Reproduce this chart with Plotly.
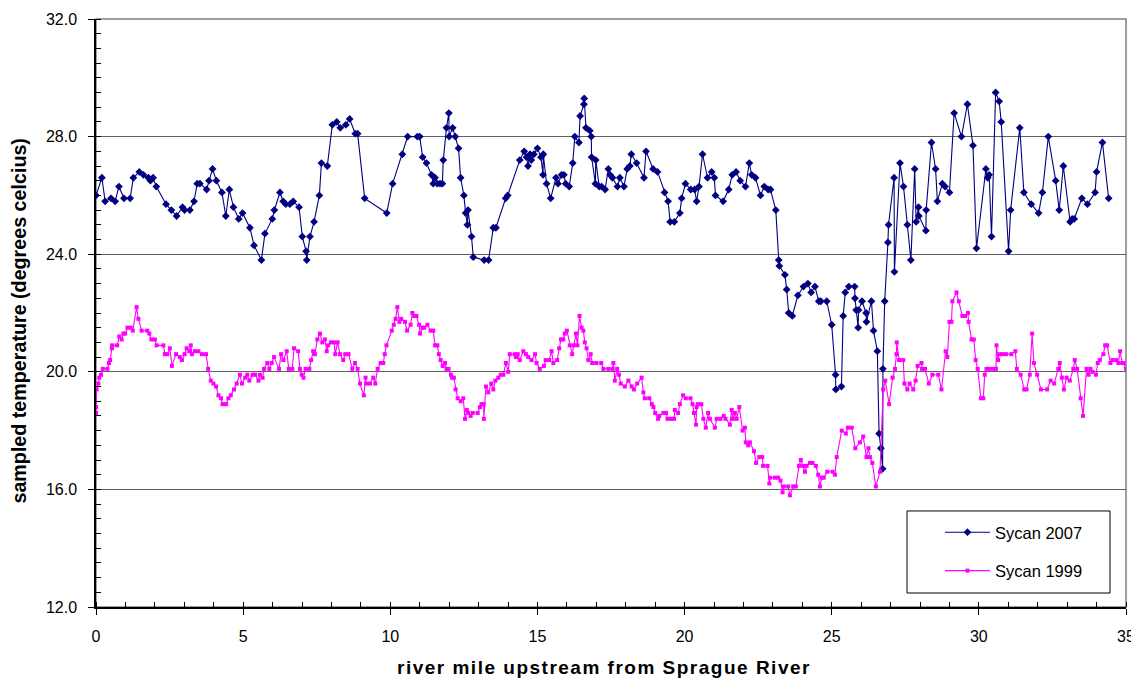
import plotly.graph_objects as go

# Sycan 2007 - river mile and sampled temperature
mile_2007 = [0.0, 0.2, 0.31, 0.51, 0.65, 0.78, 0.95, 1.16, 1.27, 1.47, 1.61, 1.78, 1.85, 1.94, 2.05,
             2.38, 2.56, 2.74, 2.94, 3.01, 3.19, 3.33, 3.44, 3.53, 3.76, 3.84, 3.96, 4.09, 4.28, 4.41,
             4.53, 4.67, 4.85, 4.98, 5.23, 5.37, 5.62, 5.74, 5.99, 6.06, 6.25, 6.36, 6.45, 6.59, 6.70,
             6.90, 7.01, 7.14, 7.16, 7.27, 7.41, 7.59, 7.66, 7.86, 8.03, 8.18, 8.30, 8.49, 8.62, 8.81,
             8.89, 9.13, 9.88, 10.08, 10.41, 10.59, 10.92, 11.0, 11.1, 11.23, 11.4, 11.46, 11.52, 11.6,
             11.69, 11.77, 11.8, 11.91, 11.99, 12.0, 12.12, 12.21, 12.32, 12.39, 12.5, 12.56, 12.62, 12.64,
             12.76, 12.82, 13.19, 13.34, 13.5, 13.59, 13.92, 13.99, 14.4, 14.55, 14.63, 14.68, 14.75,
             14.79, 14.88, 15.0, 15.12, 15.19, 15.2, 15.31, 15.45, 15.63, 15.70, 15.82, 15.9, 15.96,
             16.08, 16.2, 16.27, 16.41, 16.45, 16.58, 16.59, 16.65, 16.78, 16.83, 16.84, 16.97, 16.98,
             17.1, 17.18, 17.3, 17.41, 17.47, 17.55, 17.72, 17.80, 17.94, 18.05, 18.14, 18.19, 18.37,
             18.62, 18.69, 18.93, 19.08, 19.32, 19.44, 19.51, 19.65, 19.84, 19.9, 20.03, 20.21, 20.34,
             20.41, 20.49, 20.61, 20.78, 20.92, 21.01, 21.05, 21.31, 21.5, 21.62, 21.75, 21.89, 22.07,
             22.2, 22.28, 22.41, 22.58, 22.71, 22.84, 22.92, 23.1, 23.2, 23.22, 23.41, 23.47, 23.54,
             23.66, 23.85, 24.04, 24.19, 24.3, 24.43, 24.56, 24.63, 24.83, 25.0, 25.13, 25.14, 25.33,
             25.39, 25.46, 25.58, 25.78, 25.79, 25.83, 25.9, 25.91, 26.03, 26.17, 26.18, 26.35, 26.42,
             26.55, 26.61, 26.67, 26.73, 26.74, 26.8, 26.91, 26.93, 27.12, 27.13, 27.32, 27.44, 27.57,
             27.69, 27.82, 27.87, 27.95, 27.96, 28.2, 28.21, 28.39, 28.53, 28.59, 28.76, 28.85, 29.0,
             29.16, 29.41, 29.61, 29.8, 29.92, 30.24, 30.3, 30.35, 30.43, 30.57, 30.69, 30.76, 31.01,
             31.08, 31.39, 31.53, 31.78, 32.03, 32.16, 32.36, 32.61, 32.73, 32.87, 33.1, 33.17, 33.24,
             33.5, 33.69, 33.95, 34.0, 34.2, 34.41]
temp_2007 = [26.0, 26.6, 25.8, 25.9, 25.8, 26.3, 25.9, 25.9, 26.6, 26.8, 26.7, 26.6, 26.5, 26.6, 26.3,
             25.7, 25.5, 25.3, 25.6, 25.5, 25.5, 25.8, 26.4, 26.4, 26.2, 26.5, 26.9, 26.5, 26.1, 25.3,
             26.2, 25.6, 25.2, 25.4, 24.9, 24.3, 23.8, 24.7, 25.2, 25.5, 26.1, 25.8, 25.7, 25.7, 25.8,
             25.6, 24.6, 24.1, 23.8, 24.6, 25.1, 26.0, 27.1, 27.0, 28.4, 28.5, 28.3, 28.4, 28.6, 28.1,
             28.1, 25.9, 25.4, 26.4, 27.4, 28.0, 28.0, 28.0, 27.3, 27.1, 26.7, 26.4, 26.6, 26.4,
             26.4, 26.4, 27.2, 28.3, 28.8, 28.0, 28.3, 28.0, 27.6, 26.6, 26.0, 25.4, 25.0, 25.5,
             24.6, 23.9, 23.8, 23.8, 24.9, 24.9, 25.9, 26.0, 27.2, 27.5, 27.3, 27.0, 27.4,
             27.2, 27.4, 27.6, 27.3, 26.7, 27.4, 26.4, 25.9, 26.6, 26.4, 26.7, 26.7, 26.4,
             26.3, 27.1, 28.0, 27.8, 28.7, 29.1, 29.3, 28.3, 28.2, 28.0, 27.3, 26.4, 27.2,
             26.3, 26.3, 26.2, 26.9, 26.7, 26.6, 26.3, 26.6, 26.3, 26.9, 27.0, 27.4, 27.1,
             26.6, 27.5, 26.9, 26.8, 26.1, 25.8, 25.1, 25.1, 25.4, 25.9, 26.4, 26.2, 26.2,
             25.8, 26.3, 27.4, 26.6, 26.8, 26.6, 26.0, 25.8, 26.2, 26.7, 26.8, 26.5, 26.3,
             27.1, 26.7, 26.6, 26.0, 26.3, 26.2, 26.2, 25.5, 23.8, 23.6, 23.3, 22.8, 22.0,
             21.9, 22.6, 22.9, 23.0, 22.7, 22.9, 22.4, 22.4, 22.4, 21.6, 19.9, 19.4, 19.5,
             21.9, 22.7, 22.9, 22.9, 22.5, 22.1, 21.5, 22.1, 22.4, 22.0, 21.7, 22.4, 21.4,
             20.7, 17.9, 17.4, 16.7, 20.1, 22.4, 24.4, 25.0, 26.6, 23.4, 27.1, 26.3, 25.0,
             23.8, 26.9, 25.1, 25.6, 25.3, 24.8, 25.5, 27.8, 26.9, 25.8, 26.4, 26.3, 26.1,
             28.8, 28.0, 29.1, 27.7, 24.2, 26.9, 26.6, 26.7, 24.6, 29.5, 29.2, 28.5, 24.1,
             25.5, 28.3, 26.1, 25.7, 25.4, 26.1, 28.0, 26.5, 25.5, 27.0, 25.1, 25.2, 25.2,
             25.9, 25.7, 26.1, 26.8, 27.8, 25.9]

# Sycan 1999 - river mile and sampled temperature
mile_1999 = [0.0, 0.0, 0.02, 0.08, 0.11, 0.17, 0.23, 0.39, 0.44, 0.48, 0.54, 0.55, 0.72, 0.79, 0.87,
             0.93, 0.99, 1.07, 1.18, 1.25, 1.38, 1.44, 1.55, 1.74, 1.81, 1.88, 2.0, 2.06, 2.29, 2.34,
             2.42, 2.51, 2.58, 2.72, 2.85, 2.92, 3.01, 3.08, 3.17, 3.22, 3.26, 3.36, 3.48, 3.6, 3.74,
             3.81, 3.9, 3.99, 4.08, 4.16, 4.25, 4.3, 4.42, 4.5, 4.58, 4.69, 4.78, 4.89, 4.96, 5.07,
             5.14, 5.21, 5.32, 5.41, 5.52, 5.57, 5.66, 5.71, 5.82, 5.89, 5.97, 6.05, 6.22, 6.29, 6.37,
             6.48, 6.55, 6.67, 6.73, 6.87, 6.93, 6.99, 7.05, 7.12, 7.25, 7.31, 7.38, 7.44, 7.52, 7.61,
             7.69, 7.78, 7.84, 7.89, 7.98, 8.09, 8.13, 8.21, 8.29, 8.4, 8.47, 8.58, 8.71, 8.8, 8.89,
             8.97, 9.1, 9.16, 9.18, 9.31, 9.42, 9.49, 9.57, 9.67, 9.76, 9.81, 9.87, 10.05, 10.12, 10.18,
             10.24, 10.31, 10.37, 10.5, 10.57, 10.69, 10.75, 10.81, 10.89, 10.98, 11.01, 11.09, 11.15,
             11.26, 11.37, 11.46, 11.52, 11.6, 11.65, 11.71, 11.78, 11.86, 11.91, 11.98, 12.06, 12.1,
             12.16, 12.22, 12.29, 12.39, 12.48, 12.54, 12.6, 12.65, 12.73, 12.8, 12.97, 13.05, 13.1,
             13.17, 13.18, 13.25, 13.33, 13.43, 13.5, 13.57, 13.67, 13.75, 13.84, 13.93, 14.01, 14.06,
             14.23, 14.27, 14.33, 14.4, 14.52, 14.61, 14.69, 14.8, 14.92, 14.97, 15.08, 15.22, 15.28,
             15.4, 15.48, 15.54, 15.67, 15.74, 15.8, 15.88, 15.93, 16.0, 16.1, 16.18, 16.24, 16.31,
             16.36, 16.43, 16.5, 16.56, 16.61, 16.67, 16.73, 16.81, 16.86, 17.0, 17.17, 17.24, 17.41,
             17.55, 17.58, 17.63, 17.71, 17.77, 17.83, 17.97, 18.09, 18.2, 18.28, 18.39, 18.54, 18.6,
             18.65, 18.8, 18.89, 18.94, 19.0, 19.1, 19.14, 19.28, 19.37, 19.42, 19.54, 19.64, 19.67,
             19.78, 19.84, 19.95, 20.04, 20.2, 20.27, 20.32, 20.39, 20.41, 20.45, 20.57, 20.64, 20.72,
             20.8, 20.86, 21.03, 21.09, 21.22, 21.33, 21.39, 21.54, 21.6, 21.64, 21.71, 21.77, 21.86,
             21.97, 22.05, 22.08, 22.16, 22.22, 22.36, 22.43, 22.54, 22.64, 22.67, 22.82, 22.88, 22.9,
             23.07, 23.18, 23.26, 23.33, 23.37, 23.52, 23.58, 23.69, 23.78, 23.89, 23.95, 24.03, 24.09,
             24.15, 24.26, 24.35, 24.46, 24.54, 24.6, 24.66, 24.73, 24.85, 25.03, 25.11, 25.17, 25.34,
             25.48, 25.55, 25.68, 25.8, 25.96, 26.07, 26.18, 26.25, 26.3, 26.38, 26.5, 26.64, 26.75,
             26.82, 26.95, 27.07, 27.15, 27.2, 27.21, 27.29, 27.43, 27.47, 27.57, 27.65, 27.77, 27.85,
             27.92, 28.05, 28.07, 28.17, 28.3, 28.42, 28.62, 28.73, 28.87, 28.93, 29.0, 29.07, 29.1,
             29.24, 29.32, 29.44, 29.53, 29.63, 29.65, 29.75, 29.83, 29.89, 29.96, 30.07, 30.15, 30.2,
             30.26, 30.37, 30.49, 30.58, 30.6, 30.65, 30.69, 30.8, 30.92, 31.1, 31.24, 31.29, 31.42,
             31.54, 31.62, 31.73, 31.81, 31.87, 31.98, 32.11, 32.32, 32.44, 32.56, 32.7, 32.75, 32.82,
             32.89, 32.98, 33.09, 33.21, 33.26, 33.34, 33.46, 33.54, 33.66, 33.73, 33.79, 33.86, 33.98,
             34.04, 34.11, 34.23, 34.29, 34.36, 34.47, 34.54, 34.67, 34.74, 34.8, 34.87, 34.92, 35.0]
temp_1999 = [18.8, 18.6, 19.4, 19.6, 19.8, 19.9, 20.1, 20.1, 20.3, 20.4, 20.8, 20.9, 20.9, 21.2, 21.1,
             21.3, 21.3, 21.5, 21.5, 21.4, 22.2, 21.8, 21.4, 21.4, 21.3, 21.1, 21.1, 20.9, 20.9, 20.6,
             20.6, 20.8, 20.2, 20.6, 20.5, 20.4, 20.6, 20.8, 20.7, 20.9, 20.6, 20.7, 20.7, 20.6, 20.6,
             20.1, 19.7, 19.6, 19.5, 19.2, 19.1, 18.9, 18.9, 19.1, 19.2, 19.4, 19.6, 19.9, 19.6, 19.8,
             19.9, 19.7, 19.9, 19.9, 19.7, 19.9, 19.8, 20.1, 20.3, 20.1, 20.3, 20.5, 20.1, 20.6, 20.4,
             20.7, 20.1, 20.1, 20.8, 20.7, 20.1, 19.9, 19.8, 20.1, 20.1, 20.4, 20.7, 20.6, 21.1, 21.3,
             21.0, 21.1, 20.7, 20.9, 21.0, 21.0, 20.6, 21.0, 20.6, 20.4, 20.6, 20.6, 20.1, 20.3, 20.1,
             19.6, 19.2, 19.8, 19.6, 19.6, 19.8, 19.6, 20.1, 20.3, 20.3, 20.6, 20.9, 21.4, 21.6, 21.8,
             22.2, 21.7, 21.8, 21.7, 21.4, 21.6, 22.0, 21.9, 21.9, 21.6, 21.3, 21.5, 21.5,
             21.6, 21.4, 21.4, 20.9, 20.9, 20.6, 20.4, 20.2, 20.3, 20.1, 20.1, 19.9, 19.8,
             19.8, 19.4, 19.1, 19.0, 19.1, 18.4, 18.7, 18.6, 18.5, 18.6, 18.6, 18.8, 18.9,
             18.9, 18.4, 19.5, 19.3, 19.6, 19.4, 19.7, 19.8, 19.9, 19.9, 20.3, 20.0, 20.6,
             20.6, 20.5, 20.6, 20.4, 20.7, 20.6, 20.5, 20.4, 20.6, 20.3, 20.1, 20.2, 20.4,
             20.4, 20.7, 20.3, 20.4, 20.8, 21.1, 21.1, 21.3, 21.4, 20.9, 20.6, 20.9, 21.3,
             20.9, 21.9, 21.5, 21.4, 21.0, 20.8, 20.4, 20.6, 20.3, 20.3, 20.3, 20.1, 20.1,
             20.1, 20.3, 19.7, 20.1, 19.9, 19.6, 19.5, 19.7, 19.5, 19.4, 19.6, 19.8, 19.3,
             19.1, 19.1, 18.9, 18.8, 18.6, 18.4, 18.5, 18.6, 18.6, 18.4, 18.4, 18.4, 18.7,
             18.6, 18.9, 19.2, 19.1, 19.1, 18.9, 18.6, 18.2, 18.8, 18.9, 18.9, 18.4, 18.1,
             18.6, 18.4, 18.1, 18.4, 18.4, 18.5, 18.4, 18.2, 18.7, 18.4, 18.6, 18.4, 18.8,
             18.0, 18.1, 17.6, 17.5, 17.6, 17.3, 16.9, 17.1, 17.1, 16.8, 16.8, 16.2, 16.4,
             16.4, 16.4, 16.3, 15.9, 16.1, 16.1, 15.8, 16.1, 16.1, 16.8, 17.0, 16.8, 16.6,
             16.8, 16.9, 16.9, 16.8, 16.5, 16.1, 16.4, 16.4, 16.6, 16.6, 16.5, 17.1, 18.0,
             17.9, 18.1, 18.1, 17.4, 17.6, 17.8, 17.1, 17.4, 17.1, 16.9, 16.1, 16.6, 19.4,
             19.7, 18.9, 19.8, 20.1, 20.6, 21.0, 20.4, 20.4, 19.6, 19.4, 19.6, 19.4, 19.7,
             20.2, 20.3, 20.1, 20.1, 19.6, 19.9, 19.9, 19.4, 20.7, 20.5, 21.7, 21.7, 22.4,
             22.7, 22.4, 21.9, 21.9, 22.0, 21.7, 21.1, 21.1, 20.4, 20.1, 19.1, 19.1, 19.9,
             20.1, 20.1, 20.1, 20.1, 20.9, 20.4, 20.6, 20.6, 20.6, 20.6, 20.7, 20.1, 19.9,
             19.4, 19.4, 19.9, 21.3, 20.3, 19.9, 19.4, 19.4, 19.7, 19.6, 20.1, 20.3, 19.8,
             19.4, 19.8, 19.7, 20.1, 20.4, 20.1, 19.1, 18.5, 20.1, 19.9, 20.1, 20.0, 19.9,
             20.3, 20.4, 20.6, 20.9, 20.9, 20.3, 20.4, 20.4, 20.3, 20.7, 20.3, 20.3, 20.1]

FONT = "Arial, Liberation Sans, sans-serif"

fig = go.Figure()
fig.add_trace(go.Scatter(
    x=mile_2007, y=temp_2007, mode="lines+markers", name="Sycan 2007",
    legendgroup="a",
    line=dict(color="#000080", width=1.1),
    marker=dict(symbol="diamond", size=6, color="#000080"),
))
fig.add_trace(go.Scatter(
    x=mile_1999, y=temp_1999, mode="lines+markers", name="Sycan 1999",
    legendgroup="b",
    line=dict(color="#FF00FF", width=1.1),
    marker=dict(symbol="square", size=4, color="#FF00FF"),
))

# plot area border (grey, like the Excel frame)
fig.add_shape(type="rect", xref="paper", yref="paper", x0=0, y0=0, x1=1, y1=1,
              line=dict(color="#808080", width=1.5), layer="below")
# legend frame
fig.add_shape(type="rect", xref="paper", yref="paper", x0=0.7874, y0=0.0238, x1=0.9845, y1=0.1633,
              line=dict(color="black", width=1), fillcolor="white", layer="above")

# axis titles as annotations so the plot area keeps its size
fig.add_annotation(text="<b><span style='letter-spacing:1.5px'>river mile upstream from Sprague River</span></b>",
                   xref="paper", yref="paper", x=0.493, y=-0.1037, yanchor="middle",
                   showarrow=False, font=dict(family=FONT, size=19))
fig.add_annotation(text="<b>sampled temperature (degrees celcius)</b>",
                   xref="paper", yref="paper", x=-0.0752, y=0.4864, xanchor="center",
                   textangle=-90, showarrow=False, font=dict(family=FONT, size=19.7))

fig.update_layout(
    width=1131, height=675,
    margin=dict(l=88, r=13, t=11, b=76),
    paper_bgcolor="white", plot_bgcolor="white",
    font=dict(family=FONT, size=16, color="black"),
    showlegend=True,
    legend=dict(
        x=0.8194, y=0.1565, xanchor="left", yanchor="top",
        bgcolor="rgba(0,0,0,0)", borderwidth=0,
        font=dict(size=16.5), itemwidth=45,
        tracegroupgap=14, traceorder="grouped",
    ),
)

fig.update_xaxes(
    range=[0, 35], tick0=0, dtick=5, automargin=False,
    showgrid=False, zeroline=False,
    showline=True, linecolor="black", linewidth=1.5,
    ticks="outside", ticklen=6, tickcolor="black", ticklabelstandoff=8,
    minor=dict(dtick=1, ticks="inside", ticklen=5, tickcolor="black"),
)
fig.update_yaxes(
    range=[12, 32], tick0=12, dtick=4, tickformat=".1f", automargin=False,
    showgrid=True, gridcolor="#606060", gridwidth=1,
    zeroline=False,
    showline=True, linecolor="black", linewidth=1.5,
    ticks="outside", ticklen=6, tickcolor="black", ticklabelstandoff=8,
    minor=dict(dtick=0.5, ticks="inside", ticklen=5, tickcolor="black", showgrid=False),
)

fig.write_html("out.html")
